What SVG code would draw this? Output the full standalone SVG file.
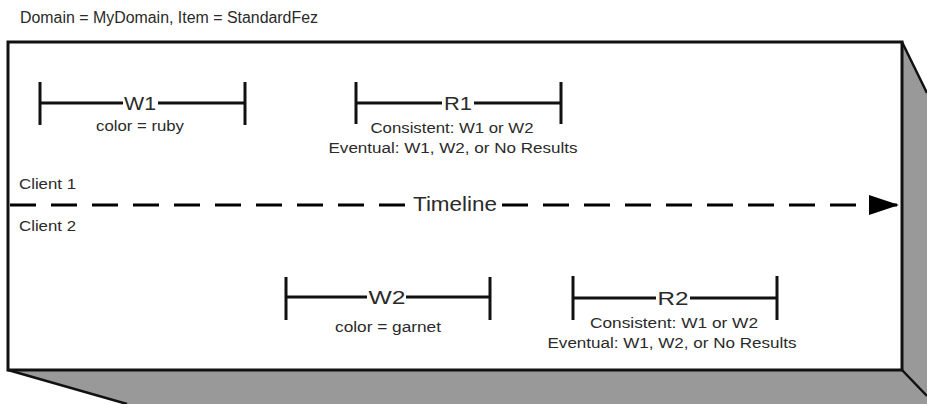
<svg xmlns="http://www.w3.org/2000/svg" width="927" height="404" viewBox="0 0 927 404">
<defs>
<style>
text{font-family:"Liberation Sans",Arial,sans-serif;fill:#2a2a2a}
.t{font-size:16px}
.c{font-size:14px}
.lab{font-size:19px;text-anchor:middle}
.s{font-size:14px;text-anchor:middle}
.bar{stroke:#111;stroke-width:3;fill:none}
.edge{stroke:#111;stroke-width:2.5;fill:none}
</style>
<marker id="arr" viewBox="0 0 30 20" refX="29" refY="10" markerWidth="30" markerHeight="20" markerUnits="userSpaceOnUse" orient="auto">
<path d="M0,0 L30,10 L0,20 Z" fill="#000"/>
</marker>
</defs>
<rect width="927" height="404" fill="#fff"/>
<text class="t" x="20" y="23" textLength="298" lengthAdjust="spacingAndGlyphs">Domain = MyDomain, Item = StandardFez</text>
<g id="box">
<polygon points="902,42 927,93 927,404 127,404 8,370 902,370" fill="#999"/>
<line class="edge" x1="902" y1="42" x2="927" y2="93"/>
<line class="edge" x1="8" y1="370" x2="127" y2="404"/>
<line class="edge" x1="902" y1="370" x2="927" y2="396"/>
<rect x="8" y="42" width="894" height="328" fill="#fff" stroke="#111" stroke-width="3"/>
</g>
<g id="clients">
<text class="c" x="19" y="189" textLength="57" lengthAdjust="spacingAndGlyphs">Client 1</text>
<text class="c" x="19" y="231" textLength="57" lengthAdjust="spacingAndGlyphs">Client 2</text>
</g>
<g id="connectors">
<line x1="10" y1="205" x2="405" y2="205" stroke="#000" stroke-width="3" stroke-dasharray="26,15"/>
<line x1="502" y1="205" x2="898" y2="205" stroke="#000" stroke-width="3" stroke-dasharray="26,15" marker-end="url(#arr)"/>
<text x="455" y="211" style="font-size:20px;text-anchor:middle" textLength="84" lengthAdjust="spacingAndGlyphs">Timeline</text>
</g>
<g id="W1">
<path class="bar" d="M40,82 V125 M245,82 V125 M40,103 H123 M158,103 H245"/>
<text class="lab" x="140" y="110" textLength="32" lengthAdjust="spacingAndGlyphs">W1</text>
<text class="s" x="140" y="131" textLength="88" lengthAdjust="spacingAndGlyphs">color = ruby</text>
</g>
<g id="R1">
<path class="bar" d="M356,82 V124 M561,82 V124 M356,103 H442 M474,103 H561"/>
<text class="lab" x="458" y="110" textLength="28" lengthAdjust="spacingAndGlyphs">R1</text>
<text class="s" x="452" y="133" textLength="163" lengthAdjust="spacingAndGlyphs">Consistent: W1 or W2</text>
<text class="s" x="453" y="153" textLength="249" lengthAdjust="spacingAndGlyphs">Eventual: W1, W2, or No Results</text>
</g>
<g id="W2">
<path class="bar" d="M286,277 V320 M490,277 V320 M286,297 H367 M406,297 H490"/>
<text class="lab" x="387" y="304" textLength="37" lengthAdjust="spacingAndGlyphs">W2</text>
<text class="s" x="388" y="332" textLength="106" lengthAdjust="spacingAndGlyphs">color = garnet</text>
</g>
<g id="R2">
<path class="bar" d="M573,276 V320 M777,276 V320 M573,298 H656 M690,298 H777"/>
<text class="lab" x="673" y="305" textLength="31" lengthAdjust="spacingAndGlyphs">R2</text>
<text class="s" x="674" y="328" textLength="168" lengthAdjust="spacingAndGlyphs">Consistent: W1 or W2</text>
<text class="s" x="672" y="348" textLength="249" lengthAdjust="spacingAndGlyphs">Eventual: W1, W2, or No Results</text>
</g>
</svg>
